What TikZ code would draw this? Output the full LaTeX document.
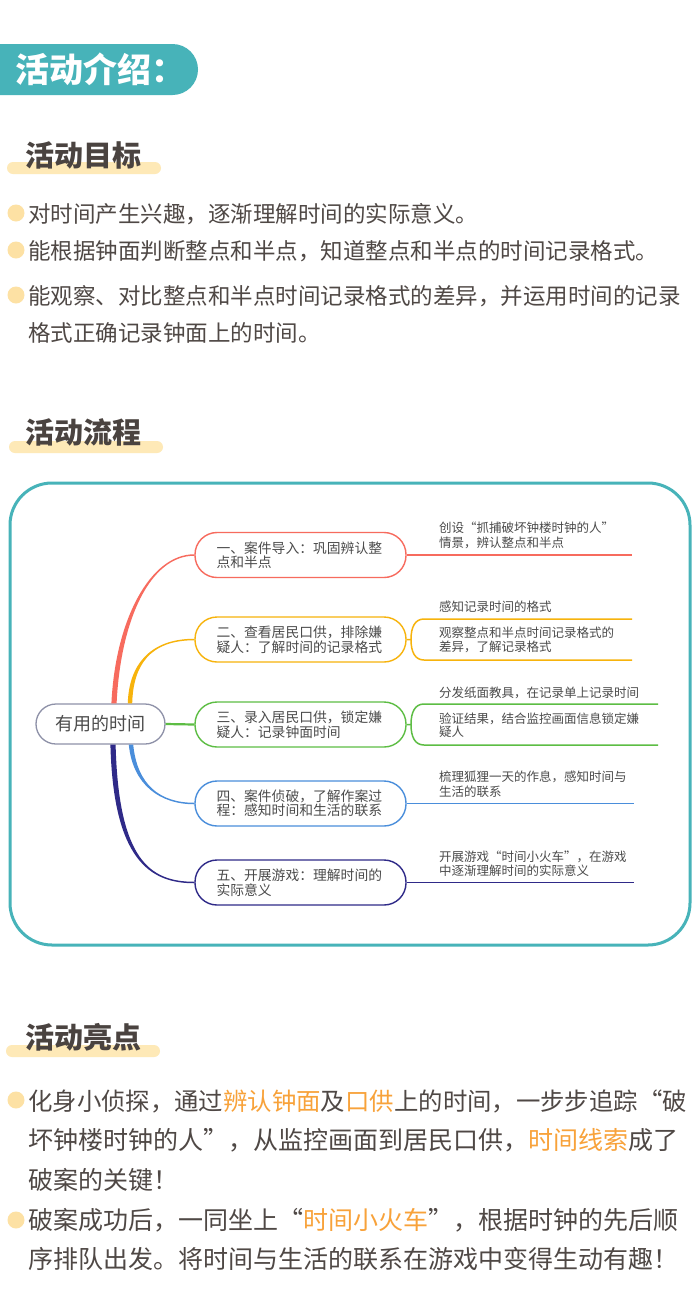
\documentclass[tikz,border=0pt]{standalone}
\usepackage{fontspec}
\setmainfont{Noto Sans CJK SC}
\usetikzlibrary{calc}
\definecolor{tealc}{HTML}{47B3B9}
\definecolor{txt}{HTML}{4F4845}
\definecolor{headc}{HTML}{4A4340}
\definecolor{barc}{HTML}{FEE9B7}
\definecolor{dotc}{HTML}{FDE1A4}
\definecolor{orc}{HTML}{F8A23A}
\definecolor{rA}{HTML}{F76B5E}
\definecolor{oB}{HTML}{F7B30C}
\definecolor{gC}{HTML}{5DBD44}
\definecolor{bD}{HTML}{4A8EDB}
\definecolor{nE}{HTML}{2F2A88}
\definecolor{cgrey}{HTML}{8E91A8}
\definecolor{mtxt}{HTML}{4B4B4B}
\newcommand\tapr[7]{%
  \fill[#1] ($(#2)-(#6)$) .. controls ($(#3)-(#6)$) and ($(#4)-(#7)$) .. ($(#5)-(#7)$)
    -- ($(#5)+(#7)$) .. controls ($(#4)+(#7)$) and ($(#3)+(#6)$) .. ($(#2)+(#6)$) -- cycle;}
\tikzset{
  head/.style={anchor=base west, inner sep=0, text=headc, font=\bfseries\fontsize{29}{29}\selectfont},
  bodyA/.style={anchor=base west, inner sep=0, text=txt, font=\fontsize{22.5}{22.5}\selectfont},
  bodyB/.style={anchor=base west, inner sep=0, text=txt, font=\fontsize{25}{25}\selectfont},
  leaf/.style={anchor=base west, inner sep=0, text=mtxt, font=\fontsize{12.5}{12.5}\selectfont},
  mnode/.style={draw=#1, line width=1.4pt, rounded corners=22pt, minimum width=211pt, minimum height=45pt,
    inner sep=0, fill=white, text=mtxt, font=\fontsize{13.8}{14.5}\selectfont, align=left, text width=168pt},
  cnode/.style={draw=cgrey, line width=1.3pt, rounded corners=20pt, minimum width=129pt, minimum height=40pt,
    inner sep=0, fill=white, text=mtxt, font=\fontsize{18}{18}\selectfont},
  lw/.style={line width=1.5pt}
}
\begin{document}
\begin{tikzpicture}[x=1pt,y=-1pt]
\useasboundingbox (0,0) rectangle (699,1312);
\fill[white] (0,0) rectangle (699,1312);
% banner
\fill[tealc, rounded corners=25.5pt] (-40,44) rectangle (198,95);
\node[anchor=base west, inner sep=0, text=white, font=\bfseries\fontsize{34}{34}\selectfont] (banner) at (15,82) {活动介绍：};

% section 1
\fill[barc, rounded corners=6pt] (7,162) rectangle (161,174);
\node[head] (h1) at (25,166) {活动目标};
\fill[dotc] (16,213) circle (8.5);
\fill[dotc] (16,250) circle (8.5);
\fill[dotc] (16,295) circle (8.5);
\node[bodyA] (t1) at (28,222.5) {对时间产生兴趣，逐渐理解时间的实际意义。};
\node[bodyA] (t2) at (28,259.5) {能根据钟面判断整点和半点，知道整点和半点的时间记录格式。};
\node[bodyA] (t3) at (28,304.5) {能观察、对比整点和半点时间记录格式的差异，并运用时间的记录};
\node[bodyA] (t4) at (28,341.5) {格式正确记录钟面上的时间。};

% section 2
\fill[barc, rounded corners=6pt] (9,441) rectangle (163,453);
\node[head] (h2) at (25,443) {活动流程};
\draw[tealc, line width=3pt, rounded corners=42pt] (10,483) rectangle (690,945);

\node[cnode] (c) at (100.5,724) {有用的时间};
\node[mnode=rA] (n1) at (300.5,555) {一、案件导入：巩固辨认整\\点和半点};
\node[mnode=oB] (n2) at (300.5,639.5) {二、查看居民口供，排除嫌\\疑人：了解时间的记录格式};
\node[mnode=gC] (n3) at (300.5,724.5) {三、录入居民口供，锁定嫌\\疑人：记录钟面时间};
\node[mnode=bD] (n4) at (300.5,803.5) {四、案件侦破，了解作案过\\程：感知时间和生活的联系};
\node[mnode=nE] (n5) at (300.5,882.5) {五、开展游戏：理解时间的\\实际意义};

\coordinate (s1) at ($(c.north)+(13.5,0)$);
\coordinate (s2) at ($(c.north)+(29.5,0)$);
\coordinate (s4) at ($(c.south)+(30.5,0)$);
\coordinate (s5) at ($(c.south)+(12.5,0)$);
\tapr{rA}{s1}{118,620}{150,555}{n1.west}{2.6,0}{0,0.75}
\tapr{oB}{s2}{131,665}{150,639.5}{n2.west}{2.2,0}{0,0.75}
\tapr{bD}{s4}{135,785}{160,803.5}{n4.west}{2.2,0}{0,-0.75}
\tapr{nE}{s5}{116,860}{150,882.5}{n5.west}{2.6,0}{0,-0.75}
\draw[gC, line width=2.2pt] (c.east) -- (n3.west);

% leaves
\coordinate (e1) at (632,555);
\draw[rA, lw] (n1.east) -- (e1);
\coordinate (j2) at (411,639.5);
\coordinate (u2) at (424,619);
\coordinate (d2) at (424,660);
\coordinate (ue2) at (632,619);
\coordinate (de2) at (632,660);
\draw[oB, lw] (n2.east) -- (j2) .. controls (411,627) and (415,619) .. (u2) -- (ue2);
\draw[oB, lw] (j2) .. controls (411,652) and (415,660) .. (d2) -- (de2);
\coordinate (j3) at (411,724.5);
\coordinate (u3) at (424,704);
\coordinate (d3) at (424,745);
\coordinate (ue3) at (658,704);
\coordinate (de3) at (658,745);
\draw[gC, lw] (n3.east) -- (j3) .. controls (411,712) and (415,704) .. (u3) -- (ue3);
\draw[gC, lw] (j3) .. controls (411,737) and (415,745) .. (d3) -- (de3);
\coordinate (e4) at (634,803.5);
\draw[bD, lw] (n4.east) -- (e4);
\coordinate (e5) at (634,882.5);
\draw[nE, lw] (n5.east) -- (e5);

\node[leaf] (l1a) at (439,532.75) {创设“抓捕破坏钟楼时钟的人”};
\node[leaf] (l1b) at (439,547.75) {情景，辨认整点和半点};
\node[leaf] (l2a) at (439,611.75) {感知记录时间的格式};
\node[leaf] (l2b) at (439,637.75) {观察整点和半点时间记录格式的};
\node[leaf] (l2c) at (439,651.75) {差异，了解记录格式};
\node[leaf] (l3a) at (439,697.75) {分发纸面教具，在记录单上记录时间};
\node[leaf] (l3b) at (439,723.75) {验证结果，结合监控画面信息锁定嫌};
\node[leaf] (l3c) at (439,736.75) {疑人};
\node[leaf] (l4a) at (439,781.75) {梳理狐狸一天的作息，感知时间与};
\node[leaf] (l4b) at (439,796.75) {生活的联系};
\node[leaf] (l5a) at (439,861.75) {开展游戏“时间小火车”，在游戏};
\node[leaf] (l5b) at (439,875.75) {中逐渐理解时间的实际意义};

% section 3
\fill[barc, rounded corners=6pt] (6,1045) rectangle (160,1057);
\node[head] (h3) at (25,1048) {活动亮点};
\fill[dotc] (16,1100) circle (8.5);
\fill[dotc] (16,1220) circle (8.5);
\node[bodyB, font=\fontsize{24.4}{24.4}\selectfont] (p1) at (28,1110.5) {化身小侦探，通过\textcolor{orc}{辨认钟面}及\textcolor{orc}{口供}上的时间，一步步追踪“破};
\node[bodyB] (p2) at (28,1149.5) {坏钟楼时钟的人”，从监控画面到居民口供，\textcolor{orc}{时间线索}成了};
\node[bodyB] (p3) at (28,1189.5) {破案的关键！};
\node[bodyB] (p4) at (28,1229.5) {破案成功后，一同坐上“\textcolor{orc}{时间小火车}”，根据时钟的先后顺};
\node[bodyB] (p5) at (28,1268.5) {序排队出发。将时间与生活的联系在游戏中变得生动有趣！};
\end{tikzpicture}
\end{document}
